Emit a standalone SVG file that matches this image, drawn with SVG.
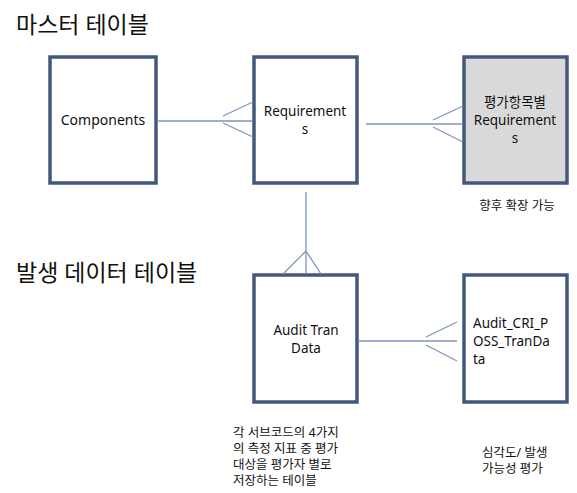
<svg xmlns="http://www.w3.org/2000/svg" width="577" height="493" viewBox="0 0 577 493">
<style>
.box{fill:#ffffff;stroke:#44587e;stroke-width:3.5}
.gray{fill:#d9d9d9}
.c{stroke:#7e95bd;stroke-width:1.3;fill:none}
text{font-family:"Noto Sans","Noto Sans CJK KR",sans-serif;fill:#111}
.t{font-size:23px}
.n{font-size:13.5px;text-anchor:middle}
.l{font-size:13.5px}
.s{font-size:12.5px}
</style>
<rect width="577" height="493" fill="#ffffff"/>
<text class="t" x="16" y="33">마스터 테이블</text>
<text class="t" x="16" y="281">발생 데이터 테이블</text>
<g id="components"><rect class="box" x="50" y="57" width="106" height="126"/><text class="n" x="103" y="125" style="font-size:14px">Components</text></g>
<g id="requirements"><rect class="box" x="254" y="57" width="103" height="126"/><text class="n" x="305" y="116">Requirement</text><text class="n" x="305" y="134">s</text></g>
<g id="eval-requirements"><rect class="box gray" x="464" y="57" width="103" height="126"/><text class="n" x="515" y="107">평가항목별</text><text class="n" x="515" y="125">Requirement</text><text class="n" x="515" y="143">s</text><text class="s" x="517" y="210" text-anchor="middle">향후 확장 가능</text></g>
<g id="audit-tran-data"><rect class="box" x="254" y="275" width="103" height="127"/><text class="n" x="306" y="335">Audit Tran</text><text class="n" x="306" y="353">Data</text><text class="s" x="233" y="437">각 서브코드의 4가지</text><text class="s" x="233" y="453">의 측정 지표 중 평가</text><text class="s" x="233" y="469">대상을 평가자 별로</text><text class="s" x="233" y="485">저장하는 테이블</text></g>
<g id="audit-cri-poss"><rect class="box" x="464" y="275" width="103" height="127"/><text class="l" x="473" y="328">Audit_CRI_P</text><text class="l" x="473" y="346">OSS_TranDa</text><text class="l" x="473" y="364">ta</text><text class="s" x="482" y="457">심각도/ 발생</text><text class="s" x="482" y="473">가능성 평가</text></g>
<g id="connectors">
<path class="c" d="M157 121H253M223 116L253 102M223 123L253 137"/>
<path class="c" d="M366 124H463M433 120L463 106M433 127L463 142"/>
<path class="c" d="M306 192V274M306 251L283 274M306 251L321 274"/>
<path class="c" d="M358 341H457M426 337L457 322M426 345L457 361"/>
</g>
</svg>
